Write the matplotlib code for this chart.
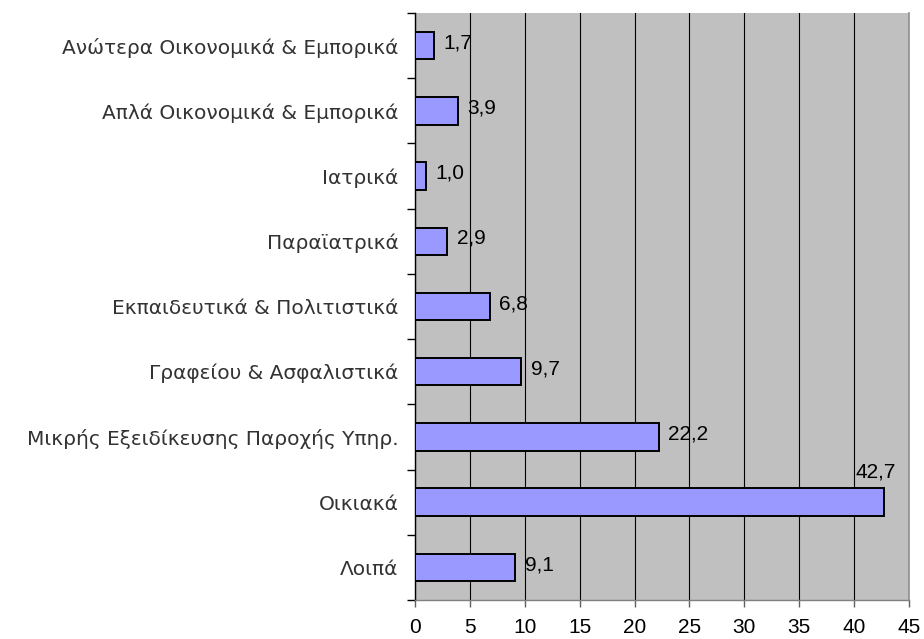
import numpy as np
import matplotlib
matplotlib.use("Agg")
import matplotlib.pyplot as plt

categories = [
    "Ανώτερα Οικονομικά & Εμπορικά",
    "Απλά Οικονομικά & Εμπορικά",
    "Ιατρικά",
    "Παραϊατρικά",
    "Εκπαιδευτικά & Πολιτιστικά",
    "Γραφείου & Ασφαλιστικά",
    "Μικρής Εξειδίκευσης Παροχής Υπηρ.",
    "Οικιακά",
    "Λοιπά",
]
values = [1.7, 3.9, 1.0, 2.9, 6.8, 9.7, 22.2, 42.7, 9.1]
xticks = [0, 5, 10, 15, 20, 25, 30, 35, 40, 45]

plt.rcParams['font.family'] = ['Liberation Sans', 'DejaVu Sans']

fig = plt.figure(figsize=(9.24, 6.39), dpi=100)
ax = fig.add_axes([415/924, 39/639, 494/924, 587/639])
ax.set_facecolor("#C0C0C0")

y = np.arange(len(categories))
ax.barh(y, values, height=0.42, color="#9999FF", edgecolor="black", linewidth=1.4, zorder=3)

ax.set_xlim(0, 45)
ax.set_ylim(len(categories) - 0.5, -0.5)
ax.set_xticks(xticks)
ax.set_xticklabels([str(t) for t in xticks], fontsize=15)
ax.set_yticks(y)
ax.set_yticklabels(categories, fontsize=14.5, color="#333333", family="DejaVu Sans")
ax.set_yticks(np.arange(len(categories) + 1) - 0.5, minor=True)
ax.tick_params(axis="y", which="major", length=0, pad=12)
ax.tick_params(axis="y", which="minor", length=6, color="black", width=1)
ax.tick_params(axis="x", length=5, color="#606060", width=1, pad=8)

ax.xaxis.grid(True, color="black", linewidth=0.8, zorder=1)
ax.set_axisbelow(True)
ax.spines["top"].set_visible(False)
ax.spines["right"].set_color("#909090")
ax.spines["right"].set_linewidth(1.2)
ax.spines["left"].set_color("black")
ax.spines["left"].set_linewidth(1.0)
ax.spines["bottom"].set_color("#808080")
ax.spines["bottom"].set_linewidth(1.0)

for yi, v in zip(y, values):
    label = f"{v:.1f}".replace(".", ",")
    if v > 40:
        # no room right of the longest bar, so the label sits above it
        ax.annotate(label, (v, yi - 0.21), xytext=(-6, 5), textcoords="offset points",
                    ha="center", va="bottom", fontsize=15, zorder=4)
    else:
        ax.annotate(label, (v, yi), xytext=(7, 2), textcoords="offset points",
                    ha="left", va="center", fontsize=15, zorder=4)

fig.savefig("out.png", dpi=100)
